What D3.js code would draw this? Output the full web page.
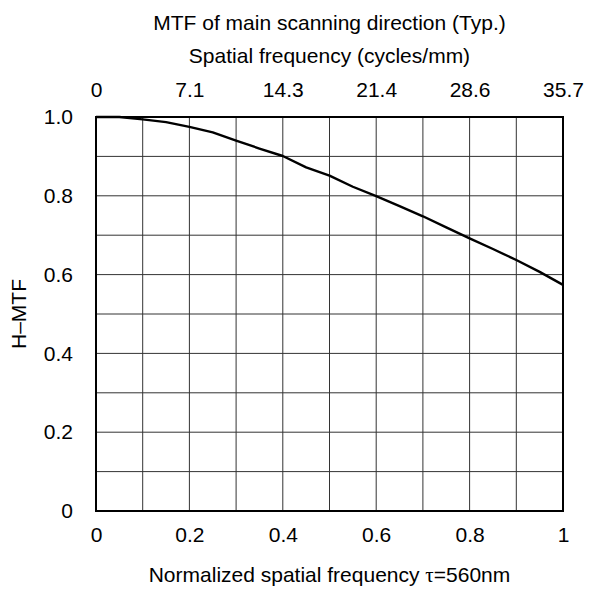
<!DOCTYPE html>
<html>
<head>
<meta charset="utf-8">
<script src="https://cdn.jsdelivr.net/npm/d3@7"></script>
<style>
  body { margin: 0; background: #fff; }
  text { font-family: "Liberation Sans", Arial, sans-serif; fill: #000; }
</style>
</head>
<body>
<svg id="chart" width="594" height="590"></svg>
<script>
// normalized spatial frequency (tau) and H-MTF
const tau = [0, 0.05, 0.1, 0.15, 0.2, 0.25, 0.3, 0.35, 0.4, 0.45, 0.5,
             0.55, 0.6, 0.65, 0.7, 0.75, 0.8, 0.85, 0.9, 0.95, 1.0]
const mtf = [1.0, 1.0, 0.994, 0.987, 0.975, 0.961, 0.94, 0.92, 0.901, 0.872, 0.851,
             0.823, 0.799, 0.774, 0.748, 0.72, 0.692, 0.665, 0.637, 0.607, 0.574]

const bottomTicks = [0, 0.2, 0.4, 0.6, 0.8, 1]
const topTickLabels = ['0', '7.1', '14.3', '21.4', '28.6', '35.7']
const leftTicks = [0, 0.2, 0.4, 0.6, 0.8, 1.0]

const margin = {top: 117, right: 31, bottom: 79, left: 96}
const width = 594 - margin.left - margin.right
const height = 590 - margin.top - margin.bottom
const fontSize = 21

const svg = d3.select('#chart')
const g = svg.append('g').attr('transform', `translate(${margin.left}, ${margin.top})`)

const x = d3.scaleLinear().domain([0, 1]).range([0, width])
const y = d3.scaleLinear().domain([0, 1]).range([height, 0])

// grid every 0.1
const gridX = d3.range(1, 10).map(d => d / 10)
g.append('g').selectAll('line').data(gridX).enter().append('line')
    .attr('x1', d => x(d)).attr('x2', d => x(d))
    .attr('y1', 0).attr('y2', height)
    .attr('stroke', '#333').attr('stroke-width', 1)
g.append('g').selectAll('line').data(gridX).enter().append('line')
    .attr('x1', 0).attr('x2', width)
    .attr('y1', d => y(d)).attr('y2', d => y(d))
    .attr('stroke', '#333').attr('stroke-width', 1)

// axes: labels only, frame drawn separately
const xBottom = d3.axisBottom(x).tickValues(bottomTicks).tickSize(0).tickPadding(16)
    .tickFormat(d => d === 0 || d === 1 ? d3.format('d')(d) : d3.format('.1f')(d))
const xTop = d3.axisTop(x).tickValues(bottomTicks).tickSize(0).tickPadding(20)
    .tickFormat((d, i) => topTickLabels[i])
const yLeft = d3.axisLeft(y).tickValues(leftTicks).tickSize(0).tickPadding(23)
    .tickFormat(d => d === 0 ? '0' : d3.format('.1f')(d))

const styleAxis = sel => {
    sel.select('.domain').remove()
    sel.selectAll('text').style('font-size', fontSize + 'px')
        .style('font-family', '"Liberation Sans", Arial, sans-serif')
}
g.append('g').attr('transform', `translate(0, ${height})`).call(xBottom).call(styleAxis)
g.append('g').call(xTop).call(styleAxis)
g.append('g').call(yLeft).call(styleAxis)

// curve
const line = d3.line().x((d, i) => x(tau[i])).y(d => y(d))
g.append('path').datum(mtf)
    .attr('d', line)
    .attr('fill', 'none')
    .attr('stroke', '#000')
    .attr('stroke-width', 2.4)
    .attr('stroke-linejoin', 'round')

// frame
g.append('rect').attr('width', width).attr('height', height)
    .attr('fill', 'none').attr('stroke', '#000').attr('stroke-width', 2)

// titles
svg.append('text').attr('x', margin.left + width / 2).attr('y', 30)
    .attr('text-anchor', 'middle').style('font-size', fontSize + 'px')
    .text('MTF of main scanning direction (Typ.)')
svg.append('text').attr('x', margin.left + width / 2).attr('y', 63)
    .attr('text-anchor', 'middle').style('font-size', fontSize + 'px')
    .text('Spatial frequency (cycles/mm)')

const xl = svg.append('text').attr('x', margin.left + width / 2).attr('y', 582)
    .attr('text-anchor', 'middle').style('font-size', fontSize + 'px')
xl.append('tspan').text('Normalized spatial frequency ')
xl.append('tspan').style('font-family', '"Liberation Serif", serif').text('τ')
xl.append('tspan').text('=560nm')

svg.append('text')
    .attr('transform', `translate(26, ${margin.top + height / 2}) rotate(-90)`)
    .attr('text-anchor', 'middle').style('font-size', fontSize + 'px')
    .text('H–MTF')
</script>
</body>
</html>
